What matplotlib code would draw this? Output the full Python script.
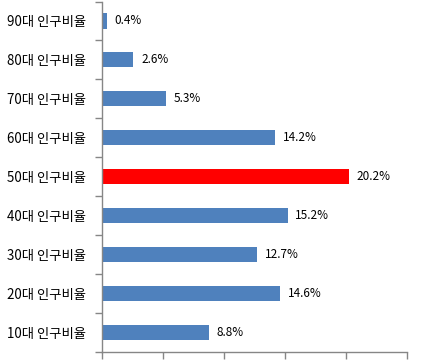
import matplotlib
matplotlib.use("Agg")
import matplotlib.pyplot as plt

categories = ["10대 인구비율", "20대 인구비율", "30대 인구비율", "40대 인구비율", "50대 인구비율",
              "60대 인구비율", "70대 인구비율", "80대 인구비율", "90대 인구비율"]
values = [8.8, 14.6, 12.7, 15.2, 20.2, 14.2, 5.3, 2.6, 0.4]
highlight = "50대 인구비율"
xticks = [0, 5, 10, 15, 20, 25]

plt.rcParams['font.family'] = ['Noto Sans CJK KR', 'DejaVu Sans']

fig = plt.figure(figsize=(4.29, 3.6), dpi=100)
ax = fig.add_axes([101.7/429, 8.3/360, (407.3-101.7)/429, (351.7-1.5)/360])

colors = ["#FF0000" if c == highlight else "#4F81BD" for c in categories]
ypos = list(range(len(categories)))
ax.barh(ypos, values, height=0.39, color=colors)
for y, v in zip(ypos, values):
    ax.text(v + 0.62, y, f"{v}%", va="center", ha="left", fontsize=8.5, color="black")

ax.set_xlim(0, 25)
ax.set_ylim(-0.5, len(categories) - 0.5)
ax.set_xticks(xticks)
ax.set_xticklabels([])
ax.set_yticks(ypos)
ax.set_yticklabels(categories, fontsize=9.6)
ax.set_yticks([i - 0.5 for i in range(len(categories) + 1)], minor=True)
ax.tick_params(axis="y", which="major", length=0, pad=11)
ax.tick_params(axis="y", which="minor", length=5, color="#868686", width=1)
ax.tick_params(axis="x", which="major", length=5, color="#868686", width=1, direction="out")
for s in ["top", "right"]:
    ax.spines[s].set_visible(False)
for s in ["left", "bottom"]:
    ax.spines[s].set_color("#868686")
    ax.spines[s].set_linewidth(1)

fig.savefig("out.png", dpi=100)
